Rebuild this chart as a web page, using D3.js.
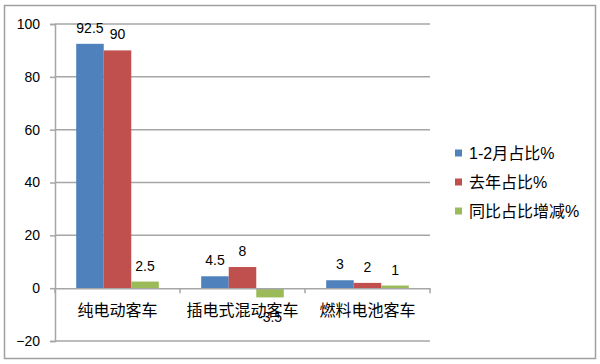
<!DOCTYPE html>
<html>
<head>
<meta charset="utf-8">
<script src="https://cdn.jsdelivr.net/npm/d3@7"></script>
<style>
  body { margin: 0; background: #fff; }
  text { font-family: "Liberation Sans", "Noto Sans CJK SC", sans-serif; fill: #000; }
  .grid line { stroke: #a6a6a6; stroke-width: 1.5; }
</style>
</head>
<body>
<div id="chart"></div>
<script>
var categories = ["纯电动客车", "插电式混动客车", "燃料电池客车"];
var seriesNames = ["1-2月占比%", "去年占比%", "同比占比增减%"];
var share12 = [92.5, 4.5, 3];
var shareLastYear = [90, 8, 2];
var shareChange = [2.5, -3.5, 1];
var yTicks = [-20, 0, 20, 40, 60, 80, 100];
var colors = ["#4f81bd", "#c0504d", "#9bbb59"];

var seriesValues = [share12, shareLastYear, shareChange];

var W = 600, H = 364;
var margin = {top: 24, right: 170, bottom: 23, left: 55};
var width = W - margin.left - margin.right;
var height = H - margin.top - margin.bottom;

var svg = d3.select("#chart").append("svg")
    .attr("width", W)
    .attr("height", H);

// outer frame
svg.append("rect")
    .attr("x", 4.5).attr("y", 5.5)
    .attr("width", 591).attr("height", 353)
    .attr("fill", "none")
    .attr("stroke", "#a0a0a0")
    .attr("stroke-width", 1.5);

var g = svg.append("g")
    .attr("transform", "translate(" + margin.left + "," + margin.top + ")");

var x = d3.scaleBand().domain(categories).range([0, width]).padding(0);
var xInner = d3.scaleBand().domain(d3.range(3)).range([0, x.bandwidth()])
    .paddingInner(0).paddingOuter(0.77);
var y = d3.scaleLinear().domain([-20, 100]).range([height, 0]);

// gridlines
g.append("g").attr("class", "grid")
  .selectAll("line")
  .data(yTicks.filter(function(d) { return d !== 0; }))
  .enter().append("line")
    .attr("x1", 0).attr("x2", width)
    .attr("y1", function(d) { return y(d); })
    .attr("y2", function(d) { return y(d); });

// bars
var rows = [];
categories.forEach(function(c, i) {
  seriesValues.forEach(function(vals, s) {
    rows.push({cat: c, s: s, v: vals[i]});
  });
});

g.selectAll("rect.bar")
  .data(rows)
  .enter().append("rect")
    .attr("class", "bar")
    .attr("x", function(d) { return x(d.cat) + xInner(d.s); })
    .attr("width", xInner.bandwidth())
    .attr("y", function(d) { return y(Math.max(0, d.v)); })
    .attr("height", function(d) { return Math.abs(y(d.v) - y(0)); })
    .attr("fill", function(d) { return colors[d.s]; });

// value labels
g.selectAll("text.val")
  .data(rows)
  .enter().append("text")
    .attr("class", "val")
    .attr("x", function(d) { return x(d.cat) + xInner(d.s) + xInner.bandwidth() / 2; })
    .attr("y", function(d) { return d.v >= 0 ? y(d.v) - 11 : y(d.v) + 25; })
    .attr("text-anchor", "middle")
    .style("font-size", "14px")
    .text(function(d) { return d.v; });

// y axis
var yAxis = g.append("g")
    .call(d3.axisLeft(y).tickValues(yTicks).tickSize(5).tickPadding(10));
yAxis.selectAll("line, path").attr("stroke", "#a6a6a6").attr("stroke-width", 1.5);
yAxis.selectAll("text").style("font-size", "14px").style("fill", "#000");

// x axis at zero
var xAxis = g.append("g")
    .attr("transform", "translate(0," + y(0) + ")")
    .call(d3.axisBottom(x).tickSize(0).tickSizeOuter(0).tickPadding(16));
xAxis.select("path").attr("stroke", "#a6a6a6").attr("stroke-width", 1.5);
xAxis.selectAll("text").style("font-size", "16px").style("fill", "#000")
    .attr("dy", "0.75em");
xAxis.selectAll(".tick line").remove();

// category boundary ticks
xAxis.selectAll("line.bound")
  .data(d3.range(categories.length + 1))
  .enter().append("line")
    .attr("class", "bound")
    .attr("x1", function(i) { return i * x.step(); })
    .attr("x2", function(i) { return i * x.step(); })
    .attr("y1", 0).attr("y2", 5)
    .attr("stroke", "#a6a6a6").attr("stroke-width", 1.5);

// legend
var legend = svg.append("g").attr("transform", "translate(455,153)");
var item = legend.selectAll("g")
  .data(seriesNames)
  .enter().append("g")
    .attr("transform", function(d, i) { return "translate(0," + i * 29 + ")"; });
item.append("rect")
    .attr("x", 0).attr("y", -3.5)
    .attr("width", 7).attr("height", 7)
    .attr("fill", function(d, i) { return colors[i]; });
item.append("text")
    .attr("x", 14).attr("y", 0)
    .attr("dy", "0.35em")
    .style("font-size", "16px")
    .text(function(d) { return d; });
</script>
</body>
</html>
